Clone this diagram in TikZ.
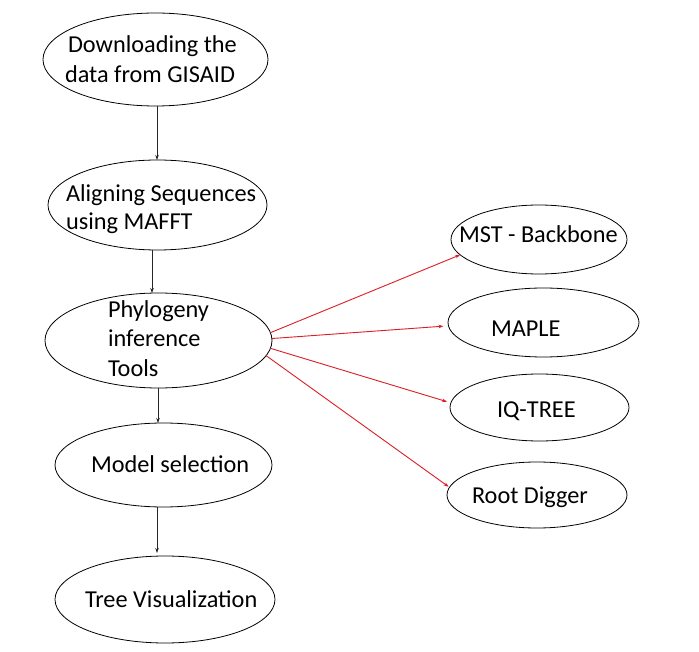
\documentclass[tikz,border=0pt]{standalone}
\usepackage{fontspec}
\setmainfont{Carlito}
\usetikzlibrary{shapes.geometric,arrows.meta}
\definecolor{arrred}{RGB}{220,30,38}
\begin{document}
\begin{tikzpicture}[x=1pt,y=-1pt,
  oval/.style 2 args={ellipse,draw,line width=0.8pt,inner sep=0pt,outer sep=0pt,minimum width=#1,minimum height=#2},
  lbl/.style={anchor=base west,inner sep=0pt,outer sep=0pt,font=\fontsize{24.3}{29.5}\selectfont},
  blk/.style={draw=black!85,line width=0.7pt,-{Stealth[length=5pt,width=3.5pt]}},
  redarr/.style={draw=arrred,line width=0.9pt,-{Stealth[length=5pt,width=3.5pt]}}]
\fill[white] (0,0) rectangle (699,652);
\useasboundingbox (0,0) rectangle (699,652);
% left column ellipses
\node[oval={225}{93}] (dl) at (155.5,59.5) {};
\node[oval={219}{90}] (al) at (157.5,205) {};
\node[oval={227}{95}] (ph) at (158.5,340.5) {};
\node[oval={217}{84}] (ms) at (163.5,465) {};
\node[oval={220}{87}] (tv) at (165,599.5) {};
% right column ellipses
\node[oval={176}{69}] (mst) at (539,239.5) {};
\node[oval={191}{69}] (mp) at (543.5,322.5) {};
\node[oval={179}{67}] (iq) at (539.5,407.5) {};
\node[oval={180}{66}] (rd) at (537,495) {};
% texts
\node[lbl] (t1a) at (68,53) {Downloading the};
\node[lbl] (t1b) at (65,83) {data from GISAID};
\node[lbl] (t2a) at (66,202) {Aligning Sequences};
\node[lbl] (t2b) at (66,230) {using MAFFT};
\node[lbl] (t3a) at (108,318) {Phylogeny};
\node[lbl] (t3b) at (108,347) {inference};
\node[lbl] (t3c) at (108,377) {Tools};
\node[lbl] (t4) at (91,472) {Model selection};
\node[lbl] (t5) at (85,607) {Tree Visualization};
\node[lbl] (t6) at (459,243) {MST - Backbone};
\node[lbl] (t7) at (491,337) {MAPLE};
\node[lbl] (t8) at (497,417) {IQ-TREE};
\node[lbl] (t9) at (472,503) {Root Digger};
% black arrows
\draw[blk] ([xshift=1.5pt]dl.south) -- ([xshift=-0.5pt]al.north);
\draw[blk] ([xshift=-5.5pt]al.south) -- ([xshift=-6.5pt]ph.north);
\draw[blk] ([xshift=-0.5pt]ph.south) -- ([xshift=-5.5pt]ms.north);
\draw[blk] ([xshift=-6.5pt]ms.south) -- ([xshift=-8pt,yshift=3pt]tv.north);
% red arrows
\draw[redarr] (ph.4) -- (mst.191);
\draw[redarr,shorten >=5pt] (ph.1) -- (mp.182);
\draw[redarr,shorten >=4pt] (ph.356) -- (iq.177);
\draw[redarr,shorten >=1pt] (ph.352) -- (rd.175);
\end{tikzpicture}
\end{document}
